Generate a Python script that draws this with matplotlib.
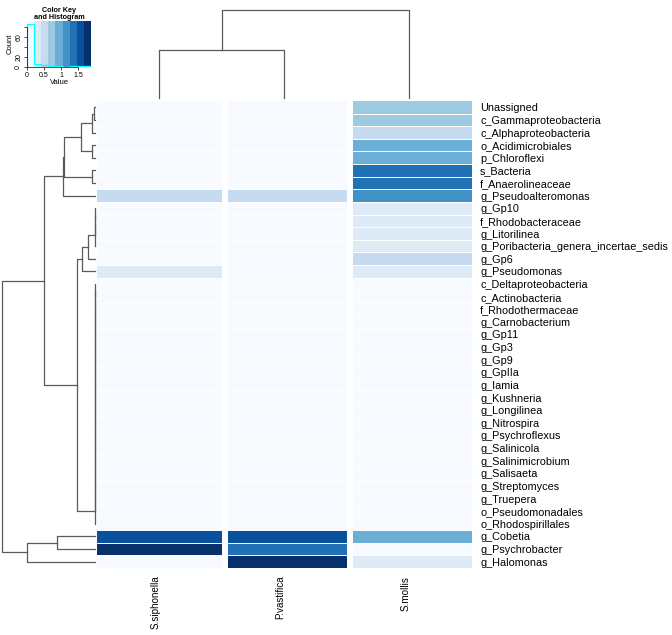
import matplotlib
matplotlib.use("Agg")
import matplotlib.pyplot as plt
import numpy as np
from matplotlib.colors import ListedColormap, BoundaryNorm

plt.rcParams['font.family'] = ['Liberation Sans', 'DejaVu Sans']

# --- data -------------------------------------------------------------
samples = ["S.siphonella", "P.vastifica", "S.mollis"]

taxa = ["Unassigned", "c_Gammaproteobacteria", "c_Alphaproteobacteria",
        "o_Acidimicrobiales", "p_Chloroflexi", "s_Bacteria",
        "f_Anaerolineaceae", "g_Pseudoalteromonas", "g_Gp10",
        "f_Rhodobacteraceae", "g_Litorilinea",
        "g_Poribacteria_genera_incertae_sedis", "g_Gp6", "g_Pseudomonas",
        "c_Deltaproteobacteria", "c_Actinobacteria", "f_Rhodothermaceae",
        "g_Carnobacterium", "g_Gp11", "g_Gp3", "g_Gp9", "g_GpIIa", "g_Iamia",
        "g_Kushneria", "g_Longilinea", "g_Nitrospira", "g_Psychroflexus",
        "g_Salinicola", "g_Salinimicrobium", "g_Salisaeta", "g_Streptomyces",
        "g_Truepera", "o_Pseudomonadales", "o_Rhodospirillales",
        "g_Cobetia", "g_Psychrobacter", "g_Halomonas"]

siphonella = [0, 0, 0, 0, 0, 0, 0, 0.5, 0, 0, 0, 0, 0, 0.3,
              0, 0, 0, 0, 0, 0, 0, 0, 0, 0, 0, 0, 0, 0, 0, 0, 0, 0, 0, 0,
              1.55, 1.8, 0]
vastifica = [0, 0, 0, 0, 0, 0, 0, 0.5, 0, 0, 0, 0, 0, 0,
             0, 0, 0, 0, 0, 0, 0, 0, 0, 0, 0, 0, 0, 0, 0, 0, 0, 0, 0, 0,
             1.55, 1.35, 1.8]
mollis = [0.75, 0.75, 0.5, 0.95, 0.95, 1.35, 1.35, 1.15, 0.3, 0.3, 0.3, 0.3, 0.5, 0.3,
          0, 0, 0, 0, 0, 0, 0, 0, 0, 0, 0, 0, 0, 0, 0, 0, 0, 0, 0, 0,
          0.95, 0, 0.3]

# row dendrogram: (child a, child b, height); leaves 0..36, merge k -> 37+k
row_merges = [(0, 1, 1), (37, 2, 3), (3, 4, 3), (38, 39, 14), (5, 6, 3),
              (40, 41, 31), (42, 7, 32),
              (8, 9, 0), (44, 10, 0), (45, 11, 0), (46, 12, 7), (47, 13, 13),
              (14, 15, 0), (49, 16, 0), (50, 17, 0), (51, 18, 0), (52, 19, 0),
              (53, 20, 0), (54, 21, 0), (55, 22, 0), (56, 23, 0), (57, 24, 0),
              (58, 25, 0), (59, 26, 0), (60, 27, 0), (61, 28, 0), (62, 29, 0),
              (63, 30, 0), (64, 31, 0), (65, 32, 0), (66, 33, 0),
              (48, 67, 18), (43, 68, 51),
              (34, 35, 38), (70, 36, 68), (69, 71, 93)]
# column dendrogram
col_merges = [(0, 1, 48), (3, 2, 88)]

blues = ["#F7FBFF", "#DEEBF7", "#C6DBEF", "#9ECAE1", "#6BAED6",
         "#4292C6", "#2171B5", "#08519C", "#08306B"]
breaks = np.linspace(0, 1.88, 10)

mat = np.column_stack([siphonella, vastifica, mollis])
nrow, ncol = mat.shape
cmap = ListedColormap(blues)
norm = BoundaryNorm(breaks, cmap.N)

W, H = 672, 635
def box(x0, y0, x1, y1):
    # pixel box (top-left origin) -> figure fractions
    return [x0 / W, 1 - y1 / H, (x1 - x0) / W, (y1 - y0) / H]

def drawDendrogram(ax, merges, n, side, color="#5a5a5a"):
    pos = {i: i + 0.5 for i in range(n)}
    hgt = {i: 0.0 for i in range(n)}
    for k, (a, b, h) in enumerate(merges):
        pa, pb = pos[a], pos[b]
        if side == "left":
            ax.plot([hgt[a], h, h, hgt[b]], [pa, pa, pb, pb], color=color, lw=0.9, clip_on=False)
        else:
            ax.plot([pa, pa, pb, pb], [hgt[a], h, h, hgt[b]], color=color, lw=0.9, clip_on=False)
        pos[n + k] = (pa + pb) / 2
        hgt[n + k] = h

fig = plt.figure(figsize=(W / 100, H / 100), dpi=100)

# heatmap
ax = fig.add_axes(box(97, 101, 472, 568))
ax.pcolormesh(np.arange(ncol + 1), np.arange(nrow + 1), mat, cmap=cmap, norm=norm)
for r in range(1, nrow):
    ax.axhline(r, color="white", lw=0.7)
for c in range(1, ncol):
    ax.axvline(c + 0.024, color="white", lw=4.3)
ax.set_xlim(0, ncol)
ax.set_ylim(nrow, 0)
for s in ax.spines.values():
    s.set_visible(False)
ax.yaxis.tick_right()
ax.set_yticks(np.arange(nrow) + 0.5, taxa, fontsize=7.8)
ax.set_xticks(np.arange(ncol) + 0.47, samples, fontsize=7.1, rotation=90)
ax.tick_params(length=0)
ax.tick_params(axis="y", pad=5.8)
ax.tick_params(axis="x", pad=5.5)

# row dendrogram
axl = fig.add_axes(box(0, 101, 95, 568))
drawDendrogram(axl, row_merges, nrow, "left")
axl.set_xlim(95, 0)
axl.set_ylim(nrow, 0)
axl.axis("off")

# column dendrogram
axt = fig.add_axes(box(97, 0, 472, 98))
drawDendrogram(axt, col_merges, ncol, "top")
axt.set_xlim(0, ncol)
axt.set_ylim(0, 98)
axt.axis("off")

# color key with histogram
axk = fig.add_axes(box(27, 21, 91, 67))
counts, _ = np.histogram(mat.ravel(), bins=breaks)
axk.pcolormesh(breaks, [0, 92], np.arange(len(blues))[None, :], cmap=cmap)
xs = np.repeat(breaks, 2)
ys = np.concatenate([[0], np.repeat(counts, 2), [0]])
axk.plot(xs, ys, color="cyan", lw=0.9)
axk.set_xlim(breaks[0], breaks[-1])
axk.set_ylim(0, 92)
axk.spines["top"].set_visible(False)
axk.spines["right"].set_visible(False)
for s in ("left", "bottom"):
    axk.spines[s].set_linewidth(0.5)
axk.spines["bottom"].set_bounds(0, 1.5)
axk.spines["left"].set_bounds(0, 80)
axk.set_xticks([0, 0.5, 1, 1.5], ["0", "0.5", "1", "1.5"])
axk.set_yticks([0, 20, 40, 60, 80], ["0", "20", "", "60", ""])
axk.tick_params(labelsize=5, length=2, width=0.5, pad=1.5)
plt.setp(axk.get_yticklabels(), rotation=90, va="center")
axk.set_xlabel("Value", fontsize=5.5, labelpad=0)
axk.set_ylabel("Count", fontsize=5.5, labelpad=1)
axk.set_title("Color Key\nand Histogram", fontsize=5.2, fontweight="bold", pad=1.5, linespacing=0.9)

fig.savefig("out.png", dpi=100)
